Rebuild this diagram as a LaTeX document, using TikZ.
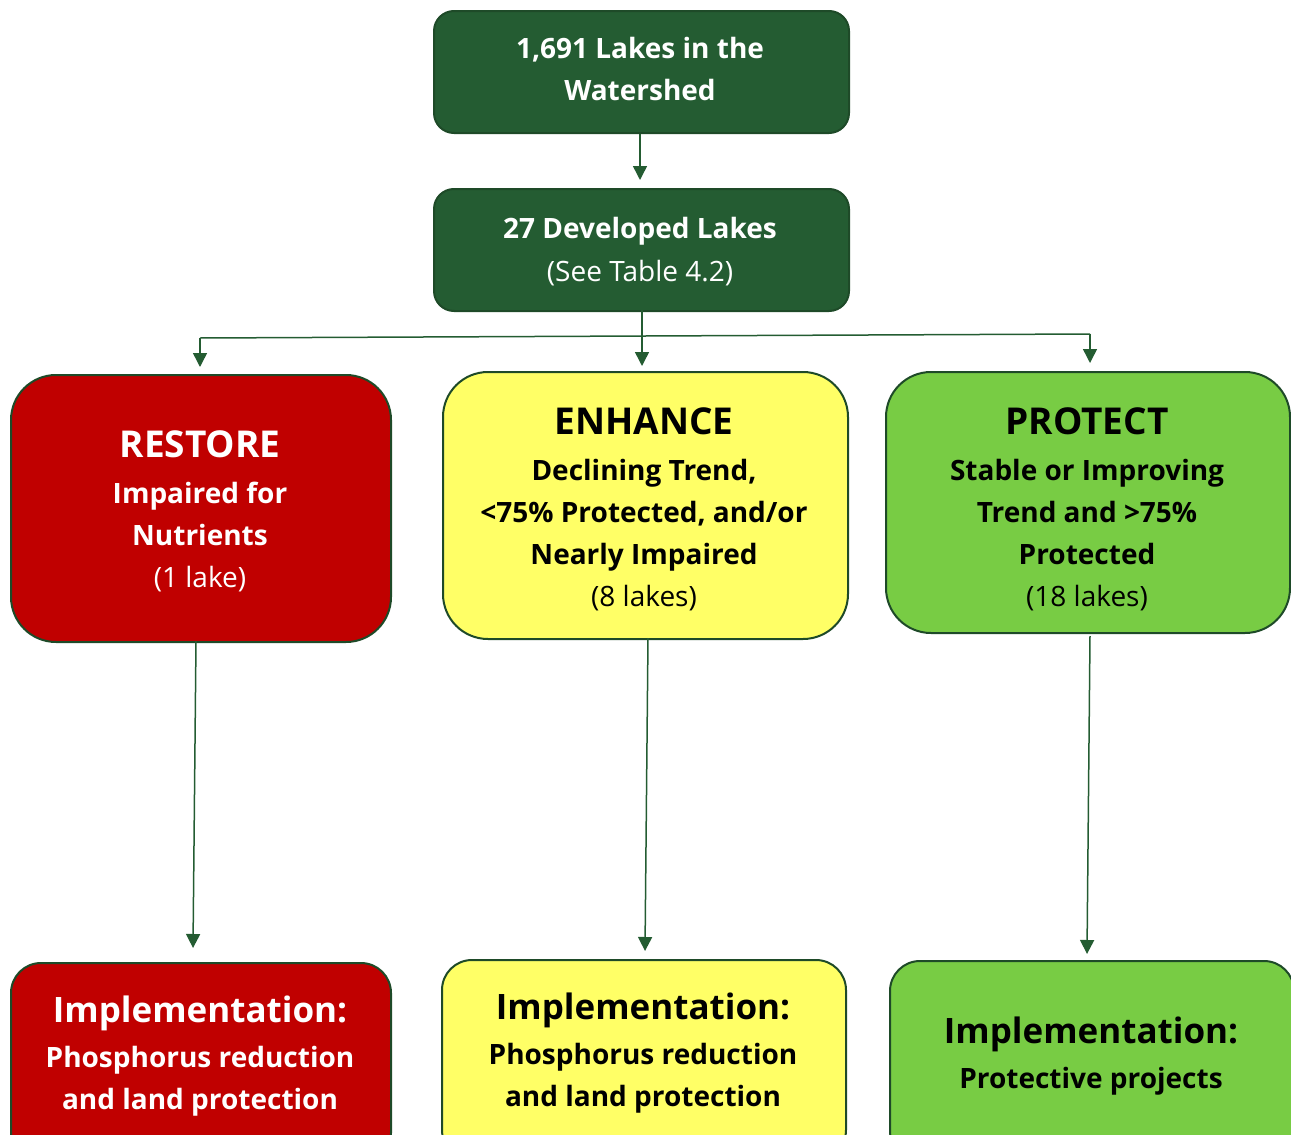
\documentclass[tikz,border=0pt]{standalone}
\usepackage{fontspec}
\setmainfont{Open Sans}
\usetikzlibrary{arrows.meta}
\definecolor{dkgreen}{HTML}{245C32}
\definecolor{edgegreen}{HTML}{1E4A28}
\definecolor{boxred}{HTML}{C00000}
\definecolor{boxyellow}{HTML}{FFFF66}
\definecolor{boxgreen}{HTML}{78CC44}
\tikzset{
  box/.style={draw=edgegreen, line width=2pt, anchor=north west, inner sep=0pt},
  conn/.style={draw=dkgreen, line width=1.5pt, -{Triangle[length=14pt,width=14pt]}},
  ttl/.style={font=\fontsize{37}{40}\selectfont\bfseries},
  itl/.style={font=\fontsize{35}{40}\selectfont\bfseries},
  sub/.style={font=\fontsize{28}{42}\selectfont\bfseries},
  reg/.style={font=\fontsize{28}{42}\selectfont},
  txt/.style={inner sep=0pt, anchor=base}
}
\begin{document}
\begin{tikzpicture}[x=1pt,y=-1pt]
\useasboundingbox (0,0) rectangle (1291,1135);
\begin{scope}
\clip (0,0) rectangle (1291,1135);
% boxes
\node[box, fill=dkgreen, rounded corners=20pt, minimum width=415pt, minimum height=122pt] (top) at (433,10) {};
\node[box, fill=dkgreen, rounded corners=20pt, minimum width=415pt, minimum height=122pt] (dev) at (433,188) {};
\node[box, fill=boxred, rounded corners=45pt, minimum width=380pt, minimum height=267pt] (rest) at (10,374) {};
\node[box, fill=boxyellow, rounded corners=45pt, minimum width=405pt, minimum height=267pt] (enh) at (442,371) {};
\node[box, fill=boxgreen, rounded corners=45pt, minimum width=404pt, minimum height=261pt] (prot) at (885,371) {};
\node[box, fill=boxred, rounded corners=30pt, minimum width=380pt, minimum height=200pt] (irest) at (10,962) {};
\node[box, fill=boxyellow, rounded corners=30pt, minimum width=404pt, minimum height=200pt] (ienh) at (441,959) {};
\node[box, fill=boxgreen, rounded corners=30pt, minimum width=404pt, minimum height=200pt] (iprot) at (889,960) {};
\end{scope}
% texts
\node[txt, sub, white] (t1) at (640,58) {1,691 Lakes in the};
\node[txt, sub, white] (t2) at (640,100) {Watershed};
\node[txt, sub, white] (d1) at (640,238) {27 Developed Lakes};
\node[txt, reg, white] (d2) at (640,281) {(See Table 4.2)};

\node[txt, ttl, white] (r1) at (200,457) {RESTORE};
\node[txt, sub, white] (r2) at (200,503) {Impaired for};
\node[txt, sub, white] (r3) at (200,545) {Nutrients};
\node[txt, reg, white] (r4) at (200,587) {(1 lake)};

\node[txt, ttl, black] (e1) at (644,434) {ENHANCE};
\node[txt, sub, black] (e2) at (644,480) {Declining Trend,};
\node[txt, sub, black] (e3) at (644,522) {<75\% Protected, and/or};
\node[txt, sub, black] (e4) at (644,564) {Nearly Impaired};
\node[txt, reg, black] (e5) at (644,606) {(8 lakes)};

\node[txt, ttl, black] (p1) at (1087,434) {PROTECT};
\node[txt, sub, black] (p2) at (1087,480) {Stable or Improving};
\node[txt, sub, black] (p3) at (1087,522) {Trend and >75\%};
\node[txt, sub, black] (p4) at (1087,564) {Protected};
\node[txt, reg, black] (p5) at (1087,606) {(18 lakes)};

\node[txt, itl, white] (ir1) at (200,1022) {Implementation:};
\node[txt, sub, white] (ir2) at (200,1067) {Phosphorus reduction};
\node[txt, sub, white] (ir3) at (200,1109) {and land protection};

\node[txt, itl, black] (ie1) at (643,1019) {Implementation:};
\node[txt, sub, black] (ie2) at (643,1064) {Phosphorus reduction};
\node[txt, sub, black] (ie3) at (643,1106) {and land protection};

\node[txt, itl, black] (ip1) at (1091,1043) {Implementation:};
\node[txt, sub, black] (ip2) at (1091,1088) {Protective projects};

% connectors
\coordinate (a1) at (640,180);
\draw[conn] (top.south -| a1) -- (a1);
\coordinate (b0) at (642,310);
\coordinate (b1) at (642,366);
\draw[conn] (b0) -- (b1);
\coordinate (hl) at (200,338);
\coordinate (hr) at (1090,334);
\coordinate (al) at (200,367);
\coordinate (ar) at (1090,363);
\draw[draw=dkgreen, line width=1.5pt] (hl) -- (hr);
\draw[conn] (hl) -- (al);
\draw[conn] (hr) -- (ar);
\coordinate (rs) at (196,641);
\coordinate (re) at (193,948);
\coordinate (es) at (648,638);
\coordinate (ee) at (645,951);
\coordinate (ps) at (1090,636);
\coordinate (pe) at (1087,954);
\draw[conn] (rs) -- (re);
\draw[conn] (es) -- (ee);
\draw[conn] (ps) -- (pe);
\end{tikzpicture}
\end{document}
